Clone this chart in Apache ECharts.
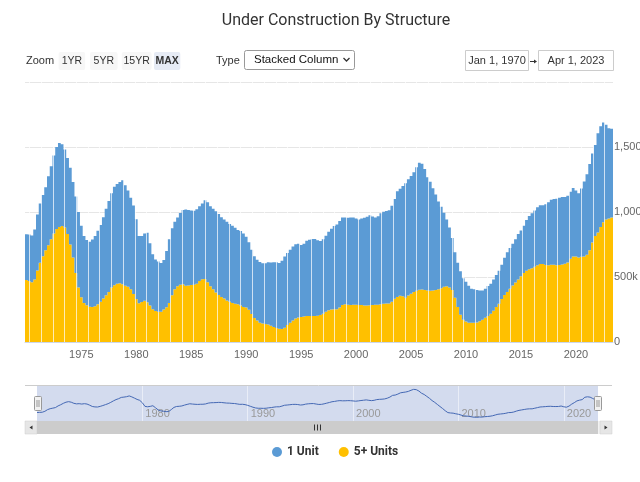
<!DOCTYPE html>
<html><head><meta charset="utf-8">
<script src="https://cdn.jsdelivr.net/npm/echarts@6/dist/echarts.min.js"></script>
<style>html,body{margin:0;padding:0;background:#fff}#c{width:640px;height:482px}</style>
</head><body><div id="c"></div>
<script>
// Quarterly categories, Jan 1970 .. Apr 2023
const startYear = 1970;
const quarterCount = 214;
const categories = [];
for (let i = 0; i < quarterCount; i++) {
  const y = startYear + Math.floor(i / 4);
  const m = (i % 4) * 3 + 1;
  categories.push(y + '-' + String(m).padStart(2, '0'));
}
// values in thousands of units
const fivePlusUnits = [
 476,470,460,480, 550,610,660,705, 745,790,835,870, 885,892,880,830, 750,650,530,420,
 345,300,282,272, 270,275,290,310, 335,360,385,420, 436,448,452,445, 432,425,405,370,
 330,298,308,317, 305,280,252,238, 233,233,250,268, 300,360,405,428, 440,444,432,435,
 438,440,448,470, 482,485,460,428, 405,380,362,346, 335,320,310,300, 295,290,280,270,
 265,248,215,185, 165,148,142,138, 134,125,115,108, 102,100,110,130, 148,165,180,188,
 192,196,200,200, 200,200,202,207, 218,232,244,250, 251,252,265,285, 290,287,285,286,
 286,285,285,280, 281,283,285,286, 287,290,295,297, 296,310,332,346, 356,352,340,358,
 372,384,394,402, 404,400,396,394, 396,400,406,414, 425,428,420,400, 340,270,210,172,
 158,148,148,148, 150,160,172,186, 200,218,240,270, 295,330,362,385, 410,435,458,480,
 505,530,548,560, 568,578,590,600, 600,592,591,594, 594,591,592,596, 602,612,640,658,
 658,650,655,658, 672,705,765,815, 842,885,922,942, 950,957
];
const oneUnit = [
 353,356,360,385, 430,455,470,485, 530,562,600,630, 645,630,600,585, 590,580,590,580,
 550,515,503,500, 518,540,565,590, 625,665,700,725, 759,767,778,799, 773,740,705,680,
 615,517,507,518, 535,480,423,397, 387,375,380,432, 490,515,520,529, 552,571,588,580,
 574,570,574,575, 583,605,615,617, 620,625,623,614, 607,605,598,595, 583,572,574,565,
 545,520,495,475, 467,467,464,468, 479,486,498,506, 506,525,548,554, 562,570,572,567,
 554,560,578,587, 592,593,580,569, 572,586,604,622, 642,651,665,672, 667,668,672,671,
 664,657,665,675, 683,692,681,672, 681,700,707,711, 718,738,768,814, 822,848,882,894,
 904,921,951,976, 968,930,872,838, 786,735,674,626, 570,514,460,400, 350,340,335,318,
 305,284,262,257, 250,236,225,224, 230,230,240,245, 253,265,286,305, 313,320,332,350,
 352,365,390,410, 422,434,446,452, 452,468,484,501, 506,511,518,520, 514,513,515,527,
 507,495,525,577, 618,665,685,700, 763,775,766,730, 695,684
];
const yTickValues = [0, 500, 1000, 1500, 2000];
const legendNames = ['1 Unit', '5+ Units'];
const zoomButtons = ['1YR', '5YR', '15YR', 'MAX'];
const dateRange = ['Jan 1, 1970', 'Apr 1, 2023'];

const seamSlots = [];
for (let i = 0; i < 49; i++) seamSlots.push(String(i));

const SANS = "'Liberation Sans',Arial,sans-serif";
const ROBOTO = "Roboto,'Liberation Sans',sans-serif";

const fiveYear = (idx, val) => idx > 0 && val.endsWith('-01') && (+val.slice(0, 4)) % 5 === 0;
const decade = (idx, val) => idx > 0 && val.endsWith('-01') && (+val.slice(0, 4)) % 10 === 0;

const chart = echarts.init(document.getElementById('c'), null, {renderer: 'canvas'});

const g = [];
// title
g.push({type: 'text', x: 336, y: 21, style: {text: 'Under Construction By Structure', fill: '#333', font: '16px ' + ROBOTO, align: 'center', verticalAlign: 'middle'}});
// zoom toolbar
g.push({type: 'text', x: 26, y: 61, style: {text: 'Zoom', fill: '#333', font: '11px ' + SANS, verticalAlign: 'middle'}});
const btnX = [[58.6, 26.6], [90, 27.6], [121.7, 29.9], [154, 26.3]];
zoomButtons.forEach((b, i) => {
  const sel = b === 'MAX';
  g.push({type: 'rect', shape: {x: btnX[i][0], y: 52, width: btnX[i][1], height: 18, r: 2}, style: {fill: sel ? '#e6ebf5' : '#f7f7f7'}});
  g.push({type: 'text', x: btnX[i][0] + btnX[i][1] / 2, y: 61, style: {text: b, fill: '#333', font: (sel ? 'bold ' : '') + '10.5px ' + SANS, align: 'center', verticalAlign: 'middle'}});
});
g.push({type: 'text', x: 216, y: 61, style: {text: 'Type', fill: '#333', font: '11px ' + SANS, verticalAlign: 'middle'}});
g.push({type: 'rect', shape: {x: 244.5, y: 50.5, width: 110, height: 19, r: 2}, style: {fill: '#fff', stroke: '#999', lineWidth: 1}});
g.push({type: 'text', x: 254, y: 60, style: {text: 'Stacked Column', fill: '#111', font: '11.5px ' + SANS, verticalAlign: 'middle'}});
g.push({type: 'polyline', shape: {points: [[343.5, 58], [346.5, 61], [349.5, 58]]}, style: {stroke: '#333', lineWidth: 1.3, fill: null}});
// date range
g.push({type: 'rect', shape: {x: 465.5, y: 50.5, width: 63, height: 20}, style: {fill: '#fff', stroke: '#ccc', lineWidth: 1}});
g.push({type: 'text', x: 497, y: 61, style: {text: dateRange[0], fill: '#333', font: '11px ' + SANS, align: 'center', verticalAlign: 'middle'}});
g.push({type: 'line', shape: {x1: 530, y1: 61.5, x2: 535.5, y2: 61.5}, style: {stroke: '#333', lineWidth: 1}});
g.push({type: 'polygon', shape: {points: [[534, 59.5], [537, 61.5], [534, 63.5]]}, style: {fill: '#333'}});
g.push({type: 'rect', shape: {x: 538.5, y: 50.5, width: 75, height: 20}, style: {fill: '#fff', stroke: '#ccc', lineWidth: 1}});
g.push({type: 'text', x: 576, y: 61, style: {text: dateRange[1], fill: '#333', font: '11px ' + SANS, align: 'center', verticalAlign: 'middle'}});
// navigator outline + handles
g.push({type: 'line', shape: {x1: 25, y1: 385.5, x2: 612, y2: 385.5}, style: {stroke: '#cccccc', lineWidth: 1}, z: 5});
[34.5, 594.5].forEach(hx => {
  g.push({type: 'rect', shape: {x: hx, y: 396.5, width: 7, height: 14, r: 1}, style: {fill: '#f2f2f2', stroke: '#999', lineWidth: 1}, z: 6});
  g.push({type: 'line', shape: {x1: hx + 2.5, y1: 400, x2: hx + 2.5, y2: 407}, style: {stroke: '#999', lineWidth: 1}, z: 7});
  g.push({type: 'line', shape: {x1: hx + 4.5, y1: 400, x2: hx + 4.5, y2: 407}, style: {stroke: '#999', lineWidth: 1}, z: 7});
});
// scrollbar
g.push({type: 'rect', shape: {x: 25, y: 421, width: 587, height: 13}, style: {fill: '#f2f2f2'}, z: 5});
g.push({type: 'rect', shape: {x: 25, y: 421, width: 12, height: 13}, style: {fill: '#e6e6e6', stroke: '#ccc', lineWidth: 0.5}, z: 5});
g.push({type: 'rect', shape: {x: 600, y: 421, width: 12, height: 13}, style: {fill: '#e6e6e6', stroke: '#ccc', lineWidth: 0.5}, z: 5});
g.push({type: 'polygon', shape: {points: [[32.5, 425.5], [29.5, 427.5], [32.5, 429.5]]}, style: {fill: '#333'}, z: 6});
g.push({type: 'polygon', shape: {points: [[604.5, 425.5], [607.5, 427.5], [604.5, 429.5]]}, style: {fill: '#333'}, z: 6});
g.push({type: 'rect', shape: {x: 37, y: 421, width: 561, height: 13}, style: {fill: '#cccccc'}, z: 5});
[314.5, 317.5, 320.5].forEach(rx => g.push({type: 'line', shape: {x1: rx, y1: 424.5, x2: rx, y2: 430.5}, style: {stroke: '#333', lineWidth: 1}, z: 6}));

const labelFmt = v => v === 2000 ? '' : (v === 0 ? '0' : v.toLocaleString('en-US') + 'k');

chart.setOption({
  animation: false,
  backgroundColor: '#fff',
  textStyle: {fontFamily: SANS},
  grid: [
    {left: 25, right: 27, top: 82, height: 260, outerBoundsMode: 'none', containLabel: false},
    {left: 37, right: 42, top: 386, height: 35, show: true, backgroundColor: '#d3dbee', borderWidth: 0, outerBoundsMode: 'none', containLabel: false},
    {left: 29.3, right: 35.4, top: 82, height: 260, outerBoundsMode: 'none', containLabel: false}
  ],
  legend: {
    data: legendNames, left: 272, top: 446, padding: 0, icon: 'circle', itemWidth: 10, itemHeight: 10, itemGap: 20,
    textStyle: {color: '#333', fontWeight: 'bold', fontSize: 12, fontFamily: ROBOTO}
  },
  xAxis: [
    {gridIndex: 0, type: 'category', data: categories, boundaryGap: true,
     axisLine: {lineStyle: {color: '#ccd6eb'}},
     axisTick: {interval: fiveYear, alignWithLabel: true, length: 5, lineStyle: {color: '#ccd6eb'}},
     axisLabel: {interval: fiveYear, formatter: v => v.slice(0, 4), color: '#666', fontSize: 11, margin: 7},
     splitLine: {show: false}},
    {gridIndex: 1, type: 'category', data: categories, boundaryGap: false, z: 1,
     axisLine: {show: false}, axisTick: {show: false},
     axisLabel: {inside: true, interval: decade, formatter: v => v.slice(0, 4), color: '#999', fontSize: 11, align: 'left', verticalAlign: 'middle', margin: 7, padding: [0, 0, 0, 3]},
     splitLine: {show: true, interval: decade, lineStyle: {color: 'rgba(255,255,255,0.5)', width: 1}}},
    {gridIndex: 2, type: 'category', data: seamSlots, boundaryGap: true, z: 10,
     axisLine: {show: false}, axisTick: {show: false}, axisLabel: {show: false},
     splitLine: {show: true, interval: 0, lineStyle: {color: 'rgba(255,255,255,0.7)', width: 1}}}
  ],
  yAxis: [
    {gridIndex: 0, type: 'value', position: 'right', min: yTickValues[0], max: yTickValues[yTickValues.length - 1], interval: 500,
     axisLine: {show: false}, axisTick: {show: false},
     axisLabel: {formatter: labelFmt, color: '#666', fontSize: 11, margin: 1, align: 'left', padding: [0, 0, 8, 0]},
     splitLine: {lineStyle: {color: '#e6e6e6', width: 1}}},
    {gridIndex: 1, type: 'value', show: false, min: v => v.min - 100, max: v => v.max + 90, splitLine: {show: false}},
    {gridIndex: 2, type: 'value', show: false, splitLine: {show: false}}
  ],
  series: [
    {name: '5+ Units', type: 'bar', stack: 'total', xAxisIndex: 0, yAxisIndex: 0, data: fivePlusUnits,
     large: true, largeThreshold: 50, barCategoryGap: 0, itemStyle: {color: '#ffc000'}, emphasis: {disabled: true}},
    {name: '1 Unit', type: 'bar', stack: 'total', xAxisIndex: 0, yAxisIndex: 0, data: oneUnit,
     large: true, largeThreshold: 50, barCategoryGap: 0, itemStyle: {color: '#5b9bd5'}, emphasis: {disabled: true}},
    {name: 'navigator', type: 'line', xAxisIndex: 1, yAxisIndex: 1, data: oneUnit, showSymbol: false, silent: true,
     lineStyle: {color: '#4468b4', width: 1}}
  ],
  color: ['#ffc000', '#5b9bd5'],
  graphic: g
});
</script>
</body></html>
